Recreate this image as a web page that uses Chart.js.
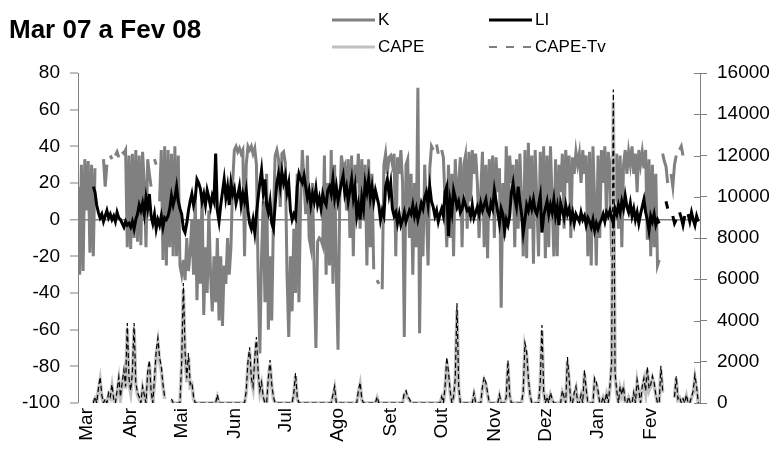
<!DOCTYPE html>
<html><head><meta charset="utf-8">
<script src="https://cdn.jsdelivr.net/npm/chart.js@4.4.1/dist/chart.umd.min.js"></script>
<style>html,body{margin:0;padding:0;background:#fff;}#wrap{position:relative;width:777px;height:453px;}</style>
</head><body><div id="wrap"><canvas id="c" width="777" height="453"></canvas></div>
<script>
const chartTitle = 'Mar 07 a Fev 08';
const monthLabels = ['Mar','Abr','Mai','Jun','Jul','Ago','Set','Out','Nov','Dez','Jan','Fev'];
const monthStartDay = [0,31,61,92,122,153,184,214,245,275,306,337];
const seriesNames = ['K','LI','CAPE','CAPE-Tv'];

// K index (left axis), one value per day, Mar 2007 .. Feb 2008
const K = [
/*Mar*/ 18,-30,30,-28,33,5,32,-18,30,-20,28,null,25,null,null,33,18,30,null,35,33,null,35,37,34,null,37,36,38,-15,35,
/*Abr*/ -16,36,-10,38,-12,35,-14,37,20,-15,33,25,18,null,33,30,null,10,38,-22,40,-25,38,-15,36,-20,40,-20,35,-25,
/*Mai*/ -30,-22,-33,-10,-28,-18,0,-30,12,-44,0,-35,15,-52,-15,-40,5,-30,-50,-20,-45,-10,-55,-20,-58,-25,-35,-10,-30,-15,20,
/*Jun*/ 38,40,37,39,36,38,-20,30,40,38,40,36,39,30,-30,-73,-20,10,-45,25,-60,-20,-55,0,35,38,33,7,36,37,
/*Jul*/ 31,-30,-64,-20,-50,-5,-40,25,-45,10,38,20,3,35,-10,-15,20,-30,-70,-12,-10,-11,-14,35,-30,20,-25,38,-35,30,-30,
/*Ago*/ -71,10,35,28,30,5,33,-10,35,-20,30,20,36,-5,33,0,30,-25,33,-15,25,-27,null,-33,-35,null,-38,30,36,25,34,
/*Set*/ 35,30,36,-20,34,25,38,20,-64,30,33,-10,25,-30,20,-15,72,-62,10,-20,30,5,-25,28,40,38,null,41,36,null,
/*Out*/ 38,34,10,-15,30,-10,25,-20,33,5,20,34,-15,30,35,-5,37,10,38,25,36,20,-10,15,37,-15,30,-21,33,5,35,
/*Nov*/ -10,34,15,28,-48,20,-10,40,0,35,20,30,-15,33,-5,36,10,-20,38,-21,42,-5,35,-24,38,10,-20,37,0,40,
/*Dez*/ -21,35,-15,40,10,-20,33,-20,30,15,36,-5,38,20,35,-10,34,25,37,30,36,20,38,25,35,-20,37,-25,40,10,-25,
/*Jan*/ 35,-10,38,20,40,0,37,30,-20,38,10,36,-5,35,-15,30,38,25,37,30,40,25,36,15,38,30,37,28,38,-11,33,
/*Fev*/ -20,30,-15,25,-25,-22,null,36,32,29,20,null,25,18,30,35,null,38,40,35,null,null,null,null,null,null,null,null,null
];

// LI index (left axis)
const LI = [
/*Mar*/ null,null,null,null,null,null,null,null,null,18,15,8,4,1,3,-1,2,5,1,3,0,2,-1,4,1,0,-2,-4,-1,-3,-2,
/*Abr*/ -4,-1,-5,0,3,8,5,9,3,12,6,14,2,-2,3,-5,0,-3,2,-4,1,0,2,6,13,8,12,18,10,6,
/*Mai*/ 3,-5,-7,-2,5,10,14,8,12,22,20,17,10,14,8,16,12,7,13,10,36,5,-1,8,15,22,12,18,8,20,14,
/*Jun*/ 17,9,13,18,8,14,10,16,5,-2,-5,0,-7,3,12,20,27,15,22,8,4,10,-2,-5,8,20,25,18,26,20,
/*Jul*/ 24,15,20,5,0,3,1,18,25,22,20,24,18,12,16,8,14,10,17,8,12,6,14,10,8,16,18,14,22,12,18,
/*Ago*/ 10,15,20,24,14,18,10,16,22,12,18,2,8,0,12,6,20,15,22,12,18,10,16,12,8,0,5,2,18,22,14,
/*Set*/ 20,6,2,4,-2,3,-3,0,4,-1,2,5,3,8,2,6,0,4,9,6,12,15,8,18,10,7,2,5,-1,3,
/*Out*/ 6,2,15,18,-9,10,4,16,12,7,10,4,6,11,8,5,6,2,8,1,4,7,3,9,5,8,11,5,3,9,6,
/*Nov*/ 16,10,4,-2,6,3,-6,0,-3,2,15,20,12,7,18,10,3,-7,0,8,5,10,6,11,5,3,8,13,-7,2,
/*Dez*/ 6,10,3,8,4,11,2,7,-3,9,5,1,8,3,6,0,4,-2,3,1,-1,4,0,2,-3,1,-1,-4,0,-6,-2,
/*Jan*/ -5,-2,0,3,-1,4,2,5,1,-2,6,3,8,4,10,6,13,7,4,9,2,6,0,4,-2,3,7,11,4,0,-6,
/*Fev*/ 2,-1,3,-3,0,-2,null,null,null,10,6,null,null,2,-2,0,null,4,1,-3,2,null,3,-1,4,0,-3,2,-1
];

// CAPE (right axis, J/kg)
const CAPE = [
/*Mar*/ null,null,null,null,null,null,null,null,null,0,200,0,600,1100,300,0,100,0,400,250,800,150,0,500,1100,200,900,1400,700,3600,1000,
/*Abr*/ 500,1300,3600,900,400,200,0,700,300,0,1300,1900,500,0,1000,2300,2900,2000,1600,800,200,null,null,null,150,0,0,0,0,0,
/*Mai*/ 1800,5500,2300,1000,2200,800,900,200,0,0,0,0,0,0,0,0,0,0,0,0,0,300,0,0,0,0,0,0,0,0,0,
/*Jun*/ 0,0,0,0,0,0,0,500,1800,2500,1100,700,2000,3000,1300,500,900,200,0,0,1100,1900,800,200,0,0,0,0,0,0,
/*Jul*/ 0,0,0,0,0,400,1300,200,0,0,0,0,0,0,0,0,0,0,0,0,0,0,0,0,0,0,0,0,300,700,0,
/*Ago*/ 0,0,0,0,0,0,0,0,0,0,0,0,500,900,150,0,0,0,0,0,0,0,0,250,0,0,0,0,0,0,0,
/*Set*/ 0,0,0,0,0,0,0,0,400,500,250,150,0,0,0,0,0,0,0,0,0,0,0,0,0,0,0,0,0,0,
/*Out*/ 250,0,700,2000,1300,500,0,250,1100,4500,700,0,0,0,0,0,0,0,0,400,0,0,0,0,700,1100,900,400,0,0,0,
/*Nov*/ 0,0,0,350,0,0,0,250,1900,350,0,0,0,0,0,0,0,500,2700,2300,1100,350,0,0,0,0,0,900,3500,500,
/*Dez*/ 0,250,0,400,150,0,0,0,0,0,500,250,0,2000,1100,0,0,400,700,0,0,350,0,1400,600,0,0,0,0,1100,900,
/*Jan*/ 500,0,0,250,0,400,0,700,1800,14600,1300,500,0,700,350,700,0,0,250,0,0,400,0,1000,500,0,700,1100,500,1600,600,
/*Fev*/ 800,1200,900,350,0,0,1600,500,null,null,null,null,null,null,250,1200,150,250,0,150,0,350,0,0,250,500,1200,700,0
];

// CAPE-Tv (right axis, J/kg)
const CAPE_TV = [
/*Mar*/ null,null,null,null,null,null,null,null,null,0,300,0,700,1260,400,0,200,0,500,300,900,200,0,600,1260,300,1000,1600,800,3880,1200,
/*Abr*/ 600,1500,3880,1000,500,300,0,800,400,0,1500,2080,600,0,1200,2500,3150,2200,1800,900,300,null,null,null,200,0,0,0,0,0,
/*Mai*/ 2000,5820,2500,1200,2420,900,1000,300,0,0,0,0,0,0,0,0,0,0,0,0,0,400,0,0,0,0,0,0,0,0,0,
/*Jun*/ 0,0,0,0,0,0,0,600,2000,2700,1200,800,2200,3200,1500,600,1000,300,0,0,1200,2080,900,300,0,0,0,0,0,0,
/*Jul*/ 0,0,0,0,0,500,1450,300,0,0,0,0,0,0,0,0,0,0,0,0,0,0,0,0,0,0,0,0,400,800,0,
/*Ago*/ 0,0,0,0,0,0,0,0,0,0,0,0,600,1000,200,0,0,0,0,0,0,0,0,300,0,0,0,0,0,0,0,
/*Set*/ 0,0,0,0,0,0,0,0,500,600,300,200,0,0,0,0,0,0,0,0,0,0,0,0,0,0,0,0,0,0,
/*Out*/ 300,0,800,2230,1500,600,0,300,1200,4850,800,0,0,0,0,0,0,0,0,500,0,0,0,0,800,1260,1000,500,0,0,0,
/*Nov*/ 0,0,0,400,0,0,0,300,2080,400,0,0,0,0,0,0,0,600,2900,2500,1200,400,0,0,0,0,0,1000,3780,600,
/*Dez*/ 0,300,0,500,200,0,0,0,0,0,600,300,0,2230,1200,0,0,500,800,0,0,400,0,1600,700,0,0,0,0,1200,1000,
/*Jan*/ 600,0,0,300,0,500,0,800,2000,15200,1500,600,0,800,400,800,0,0,300,0,0,500,0,1120,600,0,800,1200,600,1750,700,
/*Fev*/ 900,1300,1000,400,0,0,1800,600,null,null,null,null,null,null,300,1300,200,300,0,200,0,400,0,0,300,600,1360,800,0
];

const toPts = arr => arr.map((v, i) => ({x: i, y: v}));
const FONT = '"Liberation Sans", Arial, sans-serif';
// where each month label is anchored (the first one sits a little inside the axis, as in the original)
const labelAnchor = monthStartDay.map((d, i) => i === 0 ? 5 : d);

const legendPlugin = {
  id: 'customLegend',
  afterDraw(chart) {
    const ctx = chart.ctx;
    ctx.save();
    ctx.fillStyle = '#000';
    ctx.font = 'bold 26px ' + FONT;
    ctx.textBaseline = 'middle';
    ctx.textAlign = 'left';
    ctx.fillText(chartTitle, 9, 31);
    const items = [
      {i: 0, color: '#808080', w: 3, dash: [], x: 332, y: 20},
      {i: 1, color: '#000000', w: 3, dash: [], x: 489, y: 20},
      {i: 2, color: '#c0c0c0', w: 3, dash: [], x: 332, y: 47},
      {i: 3, color: '#000000', w: 1, dash: [8, 9], x: 489, y: 47}
    ];
    ctx.font = '17px ' + FONT;
    items.forEach(it => {
      ctx.beginPath();
      ctx.setLineDash(it.dash);
      ctx.strokeStyle = it.color;
      ctx.lineWidth = it.w;
      ctx.moveTo(it.x, it.y);
      ctx.lineTo(it.x + 43, it.y);
      ctx.stroke();
      ctx.setLineDash([]);
      ctx.fillText(seriesNames[it.i], it.x + 46, it.y);
    });
    // inner half of right-axis tick marks
    const y1 = chart.scales.y1;
    ctx.strokeStyle = '#808080';
    ctx.lineWidth = 1;
    y1.ticks.forEach(t => {
      const py = Math.round(y1.getPixelForValue(t.value)) + 0.5;
      ctx.beginPath();
      ctx.moveTo(y1.left - 6, py);
      ctx.lineTo(y1.left, py);
      ctx.stroke();
    });
    ctx.restore();
  }
};

new Chart(document.getElementById('c'), {
  type: 'line',
  data: {
    datasets: [
      {label: seriesNames[3], data: toPts(CAPE_TV), yAxisID: 'y1', borderColor: '#000', borderWidth: 1.2, borderDash: [5, 3], order: 0},
      {label: seriesNames[1], data: toPts(LI), yAxisID: 'y', borderColor: '#000', borderWidth: 3, order: 1},
      {label: seriesNames[2], data: toPts(CAPE), yAxisID: 'y1', borderColor: '#c0c0c0', borderWidth: 3.5, order: 2},
      {label: seriesNames[0], data: toPts(K), yAxisID: 'y', borderColor: '#808080', borderWidth: 3, order: 3}
    ]
  },
  options: {
    responsive: false,
    animation: false,
    devicePixelRatio: 1,
    spanGaps: false,
    elements: {point: {radius: 0}, line: {tension: 0, fill: false}},
    layout: {padding: {top: 73, left: 0, right: 0, bottom: 0}},
    plugins: {legend: {display: false}, tooltip: {enabled: false}, title: {display: false}},
    scales: {
      x: {
        type: 'linear', min: 0, max: 366,
        grid: {display: false, drawTicks: false},
        border: {display: false},
        afterBuildTicks: s => { s.ticks = labelAnchor.map(v => ({value: v})); },
        afterFit: s => { s.height = 50; },
        ticks: {
          autoSkip: false, minRotation: 90, maxRotation: 90, padding: 5,
          color: '#000', font: {family: FONT, size: 19},
          callback: v => monthLabels[labelAnchor.indexOf(v)]
        }
      },
      y: {
        position: 'left', min: -100, max: 80,
        afterFit: s => { s.width = 78; },
        border: {display: true, color: '#808080', width: 1},
        grid: {
          color: c => (c.tick && c.tick.value === 0) ? '#808080' : 'rgba(0,0,0,0)',
          lineWidth: c => (c.tick && c.tick.value === 0) ? 1.5 : 0,
          tickColor: '#808080', tickLength: 8, tickWidth: 1, drawOnChartArea: true
        },
        ticks: {stepSize: 20, padding: 10, color: '#000', font: {family: FONT, size: 19}, callback: v => String(v)}
      },
      y1: {
        position: 'right', min: 0, max: 16000,
        afterFit: s => { s.width = 77; },
        border: {display: true, color: '#808080', width: 1},
        grid: {drawOnChartArea: false, tickColor: '#808080', tickLength: 7, tickWidth: 1},
        ticks: {stepSize: 2000, padding: 10, color: '#000', font: {family: FONT, size: 19}, callback: v => String(v)}
      }
    }
  },
  plugins: [legendPlugin]
});
</script>
</body></html>
